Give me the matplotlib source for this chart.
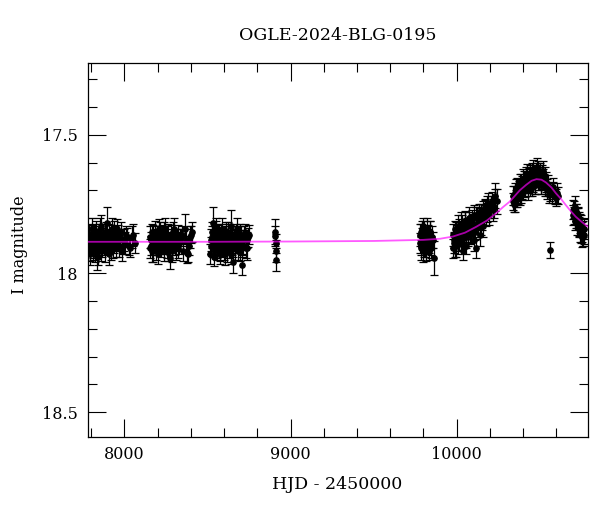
import matplotlib
matplotlib.use("Agg")
import matplotlib.pyplot as plt
from matplotlib.ticker import MultipleLocator, FuncFormatter

plt.rcParams['font.family'] = ['DejaVu Serif']

title = "OGLE-2024-BLG-0195"
xlabel = "HJD - 2450000"
ylabel = "I magnitude"

# photometry (HJD-2450000, I mag, error), season by season
hjd = [
    # 2017
    7784, 7790, 7796, 7801, 7806, 7812, 7818, 7823, 7829, 7834, 7840, 7846,
    7852, 7858, 7864, 7870, 7877, 7884, 7894, 7896, 7903, 7910, 7917, 7924,
    7932, 7940, 7948, 7956, 7965, 7974, 7984, 7995, 8008, 8025, 8045, 8062,
    # 2018
    8154, 8160, 8166, 8172, 8178, 8185, 8192, 8199, 8206, 8213, 8220, 8227,
    8234, 8241, 8248, 8255, 8262, 8269, 8275, 8282, 8290, 8298, 8306, 8315,
    8325, 8336, 8348, 8362, 8375, 8382, 8395, 8406,
    # 2019
    8516, 8522, 8528, 8534, 8540, 8546, 8552, 8558, 8564, 8570, 8576, 8582,
    8588, 8594, 8600, 8606, 8612, 8618, 8624, 8630, 8636, 8642, 8648, 8655,
    8662, 8669, 8676, 8683, 8690, 8698, 8705, 8713, 8721, 8730, 8740, 8752,
    # 2020
    8905, 8908, 8910, 8912, 8914,
    # 2022
    9776, 9782, 9788, 9793, 9798, 9803, 9808, 9813, 9818, 9823, 9828, 9834,
    9840, 9848, 9856, 9866,
    # 2023
    9975, 9982, 9988, 9994, 10000, 10006, 10012, 10018, 10024, 10030, 10035,
    10042, 10048, 10054, 10060, 10066, 10072, 10078, 10085, 10092, 10099,
    10106, 10113, 10117, 10127, 10134, 10141, 10148, 10156, 10164, 10172,
    10180, 10190, 10200, 10212, 10225, 10233, 10240,
    # 2024
    10336, 10342, 10348, 10354, 10360, 10366, 10372, 10378, 10384, 10390,
    10396, 10402, 10408, 10414, 10420, 10426, 10432, 10438, 10444, 10450,
    10456, 10462, 10468, 10474, 10480, 10486, 10492, 10498, 10504, 10510,
    10516, 10522, 10530, 10538, 10546, 10556, 10563, 10572, 10582, 10597,
    10610,
    # 2025
    10700, 10705, 10710, 10715, 10720, 10725, 10730, 10735, 10740, 10745,
    10750, 10755, 10760, 10766,
]
mag = [
    17.90, 17.87, 17.93, 17.86, 17.89, 17.91, 17.88, 17.85, 17.90, 17.938, 17.87, 17.89,
    17.84, 17.92, 17.88, 17.86, 17.90, 17.85, 17.817, 17.89, 17.87, 17.93, 17.86, 17.88,
    17.91, 17.85, 17.89, 17.84, 17.90, 17.87, 17.92, 17.88, 17.86, 17.90, 17.87, 17.89,
    17.91, 17.88, 17.92, 17.86, 17.89, 17.85, 17.90, 17.87, 17.84, 17.89, 17.91, 17.86,
    17.88, 17.85, 17.90, 17.87, 17.92, 17.88, 17.945, 17.86, 17.89, 17.84, 17.90, 17.87,
    17.91, 17.88, 17.86, 17.84, 17.927, 17.93, 17.87, 17.85,
    17.93, 17.90, 17.87, 17.817, 17.94, 17.88, 17.85, 17.91, 17.89, 17.86, 17.92, 17.88,
    17.84, 17.90, 17.87, 17.93, 17.85, 17.89, 17.86, 17.91, 17.88, 17.83, 17.90, 17.958,
    17.87, 17.89, 17.84, 17.92, 17.88, 17.86, 17.97, 17.90, 17.87, 17.91, 17.88, 17.86,
    17.85, 17.865, 17.892, 17.918, 17.95,
    17.89, 17.85, 17.91, 17.87, 17.83, 17.90, 17.86, 17.88, 17.92, 17.84, 17.87, 17.89,
    17.85, 17.91, 17.88, 17.944,
    17.91, 17.88, 17.90, 17.85, 17.87, 17.89, 17.84, 17.86, 17.88, 17.83, 17.92,
    17.87, 17.82, 17.90, 17.84, 17.86, 17.81, 17.83, 17.85, 17.80, 17.82,
    17.88, 17.79, 17.91, 17.83, 17.78, 17.80, 17.82, 17.77, 17.79, 17.76,
    17.78, 17.75, 17.77, 17.74, 17.76, 17.735, 17.74,
    17.74, 17.72, 17.75, 17.70, 17.73, 17.71, 17.69, 17.72, 17.68, 17.70,
    17.66, 17.69, 17.67, 17.65, 17.68, 17.70, 17.66, 17.64, 17.67, 17.69,
    17.65, 17.63, 17.66, 17.68, 17.64, 17.66, 17.63, 17.67, 17.65, 17.68,
    17.64, 17.66, 17.69, 17.67, 17.70, 17.717, 17.916, 17.71, 17.70, 17.727,
    17.72,
    17.77, 17.79, 17.76, 17.80, 17.78, 17.82, 17.80, 17.84, 17.82, 17.86,
    17.83, 17.85, 17.87, 17.84,
]
err = [
    0.035, 0.030, 0.040, 0.035, 0.030, 0.040, 0.035, 0.030, 0.035, 0.050, 0.030, 0.035,
    0.040, 0.035, 0.030, 0.040, 0.035, 0.030, 0.057, 0.035, 0.030, 0.040, 0.035, 0.030,
    0.035, 0.040, 0.030, 0.035, 0.040, 0.030, 0.035, 0.040, 0.030, 0.035, 0.040, 0.035,
    0.035, 0.030, 0.040, 0.035, 0.030, 0.040, 0.035, 0.030, 0.035, 0.040, 0.030, 0.035,
    0.040, 0.035, 0.030, 0.040, 0.035, 0.030, 0.040, 0.035, 0.030, 0.040, 0.035, 0.030,
    0.035, 0.040, 0.030, 0.055, 0.035, 0.030, 0.040, 0.035,
    0.035, 0.030, 0.040, 0.055, 0.035, 0.030, 0.040, 0.035, 0.030, 0.040, 0.035, 0.030,
    0.040, 0.035, 0.030, 0.040, 0.035, 0.030, 0.040, 0.035, 0.030, 0.060, 0.035, 0.040,
    0.030, 0.035, 0.040, 0.030, 0.035, 0.040, 0.035, 0.030, 0.040, 0.035, 0.030, 0.035,
    0.045, 0.035, 0.035, 0.040, 0.040,
    0.035, 0.030, 0.040, 0.035, 0.030, 0.040, 0.035, 0.030, 0.035, 0.040, 0.030, 0.035,
    0.040, 0.035, 0.030, 0.060,
    0.035, 0.030, 0.040, 0.035, 0.030, 0.040, 0.035, 0.030, 0.035, 0.040, 0.030,
    0.035, 0.040, 0.030, 0.035, 0.040, 0.030, 0.035, 0.040, 0.030, 0.035,
    0.040, 0.030, 0.035, 0.040, 0.030, 0.035, 0.040, 0.030, 0.035, 0.030,
    0.035, 0.040, 0.030, 0.035, 0.040, 0.040, 0.045,
    0.030, 0.035, 0.030, 0.040, 0.030, 0.035, 0.030, 0.035, 0.040, 0.030,
    0.035, 0.030, 0.040, 0.035, 0.030, 0.035, 0.040, 0.030, 0.035, 0.030,
    0.035, 0.040, 0.030, 0.035, 0.040, 0.030, 0.035, 0.030, 0.040, 0.035,
    0.030, 0.035, 0.030, 0.035, 0.030, 0.030, 0.030, 0.035, 0.030, 0.030,
    0.030,
    0.035, 0.030, 0.040, 0.035, 0.030, 0.040, 0.035, 0.030, 0.035, 0.030,
    0.040, 0.035, 0.030, 0.035,
]

# further epochs filling the dense blobs
hjd_b = [
    7787, 7793, 7799, 7804, 7809, 7815, 7821, 7826, 7832, 7837, 7843, 7849,
    7855, 7861, 7867, 7874, 7881, 7887, 7900, 7907, 7914, 7921, 7928, 7936,
    7944, 7952, 7960, 7970, 7979, 7990, 8001, 8016, 8035, 8054,
    8157, 8163, 8169, 8175, 8181, 8188, 8195, 8202, 8209, 8216, 8223, 8230,
    8237, 8244, 8251, 8258, 8265, 8272, 8279, 8286, 8294, 8302, 8310, 8320,
    8330, 8342, 8355, 8368, 8388, 8400,
    8519, 8525, 8531, 8537, 8543, 8549, 8555, 8561, 8567, 8573, 8579, 8585,
    8591, 8597, 8603, 8609, 8615, 8621, 8627, 8633, 8639, 8645, 8651, 8658,
    8665, 8672, 8679, 8686, 8694, 8701, 8709, 8717, 8725, 8735, 8746,
    9779, 9785, 9790, 9796, 9800, 9806, 9811, 9816, 9821, 9826, 9831, 9837,
    9844, 9852,
    9978, 9985, 9991, 9997, 10003, 10009, 10015, 10021, 10027, 10033, 10039,
    10045, 10051, 10057, 10063, 10069, 10075, 10082, 10089, 10096, 10103,
    10110, 10123, 10131, 10138, 10145, 10152, 10160, 10168, 10176, 10185,
    10195, 10206, 10218, 10230,
    10339, 10345, 10351, 10357, 10363, 10369, 10375, 10381, 10387, 10393,
    10399, 10405, 10411, 10417, 10423, 10429, 10435, 10441, 10447, 10453,
    10459, 10465, 10471, 10477, 10483, 10489, 10495, 10501, 10507, 10513,
    10519, 10526, 10534, 10542, 10550, 10560, 10577, 10590, 10603,
    10702, 10708, 10712, 10718, 10722, 10728, 10733, 10738, 10743, 10748,
    10753, 10758, 10763,
]
mag_b = [
    17.86, 17.92, 17.88, 17.84, 17.91, 17.87, 17.93, 17.89, 17.85, 17.90, 17.94, 17.86,
    17.88, 17.83, 17.91, 17.87, 17.92, 17.85, 17.90, 17.86, 17.88, 17.92, 17.84, 17.89,
    17.87, 17.91, 17.86, 17.88, 17.85, 17.90, 17.89, 17.87, 17.91, 17.86,
    17.87, 17.90, 17.85, 17.92, 17.88, 17.91, 17.86, 17.93, 17.88, 17.85, 17.90, 17.87,
    17.92, 17.84, 17.89, 17.91, 17.86, 17.90, 17.87, 17.92, 17.85, 17.88, 17.91, 17.86,
    17.89, 17.87, 17.92, 17.88, 17.90, 17.86,
    17.88, 17.85, 17.91, 17.87, 17.90, 17.84, 17.92, 17.86, 17.89, 17.93, 17.85, 17.90,
    17.87, 17.91, 17.86, 17.88, 17.92, 17.85, 17.89, 17.87, 17.93, 17.86, 17.90, 17.88,
    17.91, 17.85, 17.89, 17.87, 17.92, 17.86, 17.90, 17.88, 17.85, 17.91, 17.87,
    17.86, 17.90, 17.84, 17.92, 17.88, 17.85, 17.91, 17.87, 17.89, 17.86, 17.92, 17.85,
    17.90, 17.87,
    17.86, 17.89, 17.84, 17.90, 17.86, 17.83, 17.89, 17.85, 17.82, 17.88, 17.84,
    17.86, 17.81, 17.87, 17.83, 17.85, 17.80, 17.86, 17.82, 17.84, 17.79,
    17.85, 17.80, 17.82, 17.86, 17.78, 17.81, 17.83, 17.77, 17.80, 17.76,
    17.79, 17.75, 17.77, 17.72,
    17.72, 17.75, 17.71, 17.73, 17.69, 17.72, 17.70, 17.67, 17.71, 17.68,
    17.70, 17.66, 17.69, 17.67, 17.64, 17.68, 17.65, 17.69, 17.66, 17.63,
    17.67, 17.64, 17.68, 17.65, 17.62, 17.67, 17.65, 17.63, 17.68, 17.66,
    17.63, 17.67, 17.65, 17.69, 17.68, 17.71, 17.69, 17.72, 17.71,
    17.79, 17.77, 17.81, 17.78, 17.80, 17.79, 17.83, 17.81, 17.85, 17.83,
    17.87, 17.84, 17.86,
]
err_b = [
    0.040, 0.035, 0.030, 0.040, 0.035, 0.040, 0.030, 0.035, 0.040, 0.035, 0.030, 0.040,
    0.035, 0.040, 0.030, 0.035, 0.040, 0.035, 0.030, 0.040, 0.035, 0.030, 0.040, 0.035,
    0.040, 0.030, 0.035, 0.040, 0.035, 0.030, 0.040, 0.035, 0.030, 0.040,
    0.040, 0.035, 0.030, 0.040, 0.035, 0.040, 0.030, 0.035, 0.040, 0.035, 0.030, 0.040,
    0.035, 0.040, 0.030, 0.035, 0.040, 0.035, 0.030, 0.040, 0.035, 0.030, 0.040, 0.035,
    0.040, 0.030, 0.035, 0.040, 0.035, 0.030,
    0.040, 0.035, 0.030, 0.040, 0.035, 0.040, 0.030, 0.035, 0.040, 0.035, 0.030, 0.040,
    0.035, 0.040, 0.030, 0.035, 0.040, 0.035, 0.030, 0.040, 0.035, 0.030, 0.040, 0.035,
    0.040, 0.030, 0.035, 0.040, 0.035, 0.030, 0.040, 0.035, 0.030, 0.040, 0.035,
    0.040, 0.035, 0.030, 0.040, 0.035, 0.040, 0.030, 0.035, 0.040, 0.035, 0.030, 0.040,
    0.035, 0.040,
    0.040, 0.035, 0.030, 0.040, 0.035, 0.040, 0.030, 0.035, 0.040, 0.035, 0.030,
    0.040, 0.035, 0.040, 0.030, 0.035, 0.040, 0.035, 0.030, 0.040, 0.035,
    0.030, 0.040, 0.035, 0.040, 0.030, 0.035, 0.040, 0.035, 0.030, 0.040,
    0.035, 0.030, 0.040, 0.045,
    0.035, 0.030, 0.035, 0.030, 0.035, 0.030, 0.035, 0.030, 0.035, 0.030,
    0.035, 0.030, 0.035, 0.030, 0.035, 0.030, 0.035, 0.030, 0.035, 0.030,
    0.035, 0.030, 0.035, 0.030, 0.035, 0.030, 0.035, 0.030, 0.035, 0.030,
    0.035, 0.030, 0.035, 0.030, 0.035, 0.030, 0.035, 0.030, 0.035,
    0.035, 0.030, 0.035, 0.030, 0.035, 0.030, 0.035, 0.030, 0.035, 0.030,
    0.035, 0.030, 0.035,
]

# model light curve
model_hjd = [7778, 8500, 9000, 9500, 9800, 9900, 9977, 10050, 10117, 10180,
             10237, 10280, 10317, 10337, 10380, 10417, 10450, 10480, 10510,
             10537, 10570, 10597, 10630, 10657, 10690, 10717, 10750, 10777, 10796]
model_mag = [17.886, 17.886, 17.885, 17.883, 17.879, 17.875, 17.867, 17.853, 17.832, 17.81,
             17.783, 17.760, 17.742, 17.729, 17.700, 17.681, 17.666, 17.660, 17.662,
             17.672, 17.690, 17.711, 17.733, 17.754, 17.778, 17.796, 17.813, 17.826, 17.834]

fig = plt.figure(figsize=(6.0, 5.12), dpi=100)
ax = fig.add_axes([87.5/600, 1-436.7/512, 500/600, 374/512])

ekw = dict(fmt='o', color='black', ms=3.8, elinewidth=0.9, capsize=3.2,
           capthick=0.9, zorder=2)
ax.errorbar(hjd, mag, yerr=err, **ekw)
ax.errorbar(hjd_b, mag_b, yerr=err_b, **ekw)
ax.plot(model_hjd, model_mag, color='#ff00ff', lw=1.3, alpha=0.65, zorder=3)

ax.set_xlim(7778, 10787)
ax.set_ylim(18.589, 17.24)

ax.xaxis.set_major_locator(MultipleLocator(1000))
ax.xaxis.set_minor_locator(MultipleLocator(200))
ax.yaxis.set_major_locator(MultipleLocator(0.5))
ax.yaxis.set_minor_locator(MultipleLocator(0.1))
ax.yaxis.set_major_formatter(FuncFormatter(lambda v, p: f"{v:g}"))

ax.tick_params(which='both', direction='in', top=True, right=True, width=0.8,
               labelsize=11.5)
ax.tick_params(which='major', length=13, pad=7)
ax.tick_params(which='minor', length=6.5)
for s in ax.spines.values():
    s.set_linewidth(0.9)

fig.text(337.5/600, 1-35/512, title, ha='center', va='center', fontsize=12.5)
ax.set_xlabel(xlabel, fontsize=12.5, labelpad=9)
fig.text(20/600, 1-245/512, ylabel, ha='center', va='center', rotation=90,
         fontsize=11.5)

fig.savefig("out.png", dpi=100)
